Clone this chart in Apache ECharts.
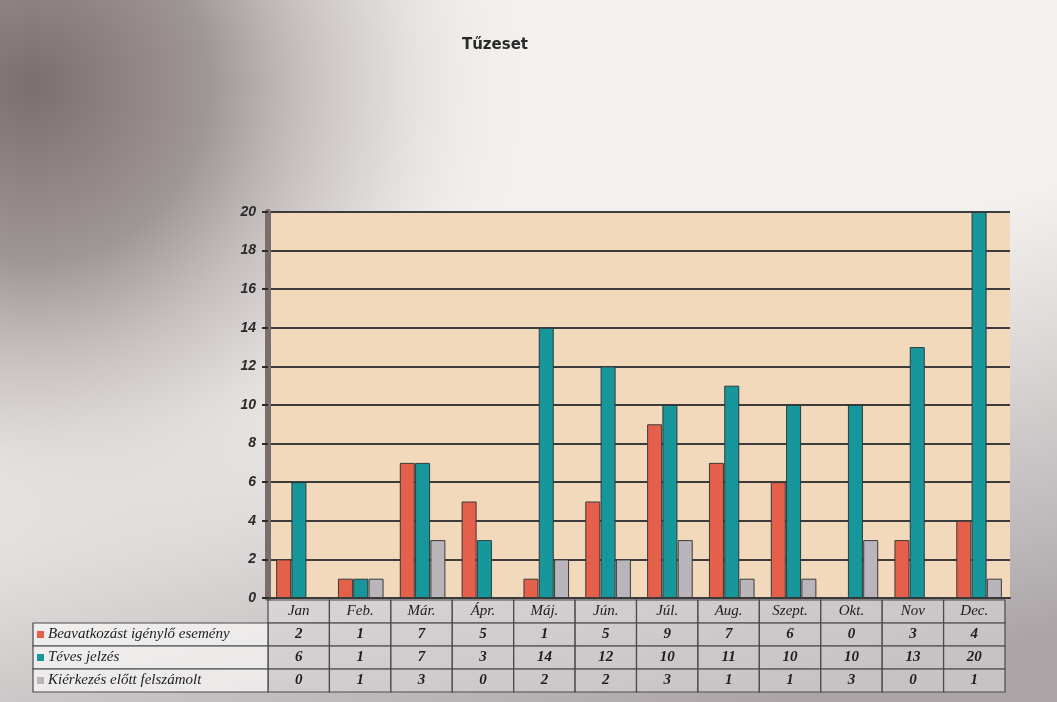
<!DOCTYPE html>
<html>
<head>
<meta charset="utf-8">
<script src="https://cdn.jsdelivr.net/npm/echarts@6/dist/echarts.min.js"></script>
<style>
  html, body { margin: 0; padding: 0; }
  #chart { width: 1057px; height: 702px; }
</style>
</head>
<body>
<div id="chart"></div>
<script>
// data
var months = ['Jan', 'Feb.', 'Már.', 'Ápr.', 'Máj.', 'Jún.', 'Júl.', 'Aug.', 'Szept.', 'Okt.', 'Nov', 'Dec.'];
var seriesNames = ['Beavatkozást igénylő esemény', 'Téves jelzés', 'Kiérkezés előtt felszámolt'];
var beavatkozas = [2, 1, 7, 5, 1, 5, 9, 7, 6, 0, 3, 4];
var tevesJelzes = [6, 1, 7, 3, 14, 12, 10, 11, 10, 10, 13, 20];
var felszamolt = [0, 1, 3, 0, 2, 2, 3, 1, 1, 3, 0, 1];
var yTicks = [0, 2, 4, 6, 8, 10, 12, 14, 16, 18, 20];

var colors = ['#e5604b', '#17979c', '#b9b5ba'];
var allValues = [beavatkozas, tevesJelzes, felszamolt];

// table cells: header row (months) + one row per series
var cells = [];
var cellText = [];
for (var c = 0; c < months.length; c++) {
    cells.push([c, 0]);
    cellText.push(months[c]);
    for (var r = 0; r < allValues.length; r++) {
        cells.push([c, r + 1]);
        cellText.push(String(allValues[r][c]));
    }
}

var chart = echarts.init(document.getElementById('chart'));

function renderCell(params, api) {
    var col = api.value(0), row = api.value(1);
    var pt = api.coord([col, row]);
    var sz = api.size([1, 1]);
    var x = pt[0] - sz[0] / 2, y = pt[1] - sz[1] / 2;
    var cellFont = 'italic 15px "Liberation Serif", serif';
    var kids = [{
        type: 'rect',
        shape: { x: x, y: y, width: sz[0], height: sz[1] },
        style: { fill: 'rgba(222,219,221,0.55)', stroke: '#4a4a4a', lineWidth: 1.2 }
    }, {
        type: 'text',
        style: {
            text: cellText[params.dataIndex], x: pt[0], y: pt[1],
            align: 'center', verticalAlign: 'middle',
            font: (row === 0 ? cellFont : 'italic bold 15px "Liberation Serif", serif'), fill: '#1e1e1e'
        }
    }];
    // row label cells on the left
    if (col === 0 && row > 0) {
        var lx = 33;
        kids.push({
            type: 'rect',
            shape: { x: lx, y: y, width: x - lx, height: sz[1] },
            style: { fill: 'rgba(248,246,246,0.75)', stroke: '#4a4a4a', lineWidth: 1.2 }
        }, {
            type: 'rect',
            shape: { x: lx + 4, y: pt[1] - 3.5, width: 7, height: 7 },
            style: { fill: colors[row - 1] }
        }, {
            type: 'text',
            style: {
                text: seriesNames[row - 1], x: lx + 15, y: pt[1],
                align: 'left', verticalAlign: 'middle',
                font: cellFont, fill: '#1e1e1e',
                width: x - lx - 17, overflow: 'truncate', ellipsis: ''
            }
        });
    }
    return { type: 'group', children: kids };
}

var option = {
    backgroundColor: '#f3f1ee',
    animation: false,
    graphic: [{
        // scanned backdrop: grey patch in the top-left corner
        type: 'rect', z: -10, silent: true,
        shape: { x: 0, y: 0, width: 1057, height: 702 },
        style: {
            fill: {
                type: 'radial', x: 0.03, y: 0.12, r: 0.72,
                colorStops: [
                    { offset: 0, color: 'rgba(122,110,112,1)' },
                    { offset: 0.35, color: 'rgba(150,140,141,0.9)' },
                    { offset: 0.7, color: 'rgba(200,194,194,0.5)' },
                    { offset: 1, color: 'rgba(243,241,238,0)' }
                ]
            }
        }
    }, {
        // darker band on the right edge
        type: 'rect', z: -9, silent: true,
        shape: { x: 0, y: 0, width: 1057, height: 702 },
        style: {
            fill: {
                type: 'linear', x: 0.9, y: 0.3, x2: 1, y2: 0.9,
                colorStops: [
                    { offset: 0, color: 'rgba(150,144,148,0)' },
                    { offset: 1, color: 'rgba(140,132,138,0.7)' }
                ]
            }
        }
    }],
    title: {
        text: 'Tűzeset',
        left: 490, top: 33, textAlign: 'center',
        textStyle: { fontFamily: 'DejaVu Sans', fontSize: 15, fontWeight: 'bold', color: '#2a2a2a' }
    },
    grid: [
        { left: 268, right: 47, top: 212, height: 386, backgroundColor: '#f2d9bb', show: true, borderWidth: 0 },
        { left: 268, right: 52, top: 600, height: 92 }
    ],
    xAxis: [{
        gridIndex: 0, type: 'category', data: months,
        axisLine: { lineStyle: { color: '#3a3a3a', width: 2 } },
        axisTick: { show: false }, axisLabel: { show: false }
    }, {
        gridIndex: 1, type: 'category', data: months,
        axisLine: { show: false }, axisTick: { show: false }, axisLabel: { show: false }
    }],
    yAxis: [{
        gridIndex: 0, type: 'value', min: 0, max: 20, interval: 2,
        axisLine: { show: true, lineStyle: { color: '#7b6c6e', width: 6 } },
        axisTick: { show: true, length: 6, lineStyle: { color: '#2a2a2a', width: 2 } },
        axisLabel: {
            fontFamily: 'Liberation Sans', fontStyle: 'italic', fontWeight: 'bold',
            fontSize: 14, color: '#2a2a2a', margin: 12,
            formatter: function (v) { return yTicks.indexOf(v) >= 0 ? String(v) : ''; }
        },
        splitLine: { lineStyle: { color: '#3c3c3c', width: 2 } }
    }, {
        gridIndex: 1, type: 'category', inverse: true, data: ['h', 's0', 's1', 's2'],
        axisLine: { show: false }, axisTick: { show: false }, axisLabel: { show: false }
    }],
    series: [{
        name: seriesNames[0], type: 'bar', data: beavatkozas,
        barWidth: 15, barGap: '2%',
        itemStyle: { color: colors[0], borderColor: '#3a3a3a', borderWidth: 1 }
    }, {
        name: seriesNames[1], type: 'bar', data: tevesJelzes,
        barWidth: 15, barGap: '2%',
        itemStyle: { color: colors[1], borderColor: '#2e3a3a', borderWidth: 1 }
    }, {
        name: seriesNames[2], type: 'bar', data: felszamolt,
        barWidth: 15, barGap: '2%',
        itemStyle: { color: colors[2], borderColor: '#3a3a3a', borderWidth: 1 }
    }, {
        type: 'custom', xAxisIndex: 1, yAxisIndex: 1,
        renderItem: renderCell, data: cells, silent: true
    }]
};
chart.setOption(option);
</script>
</body>
</html>
